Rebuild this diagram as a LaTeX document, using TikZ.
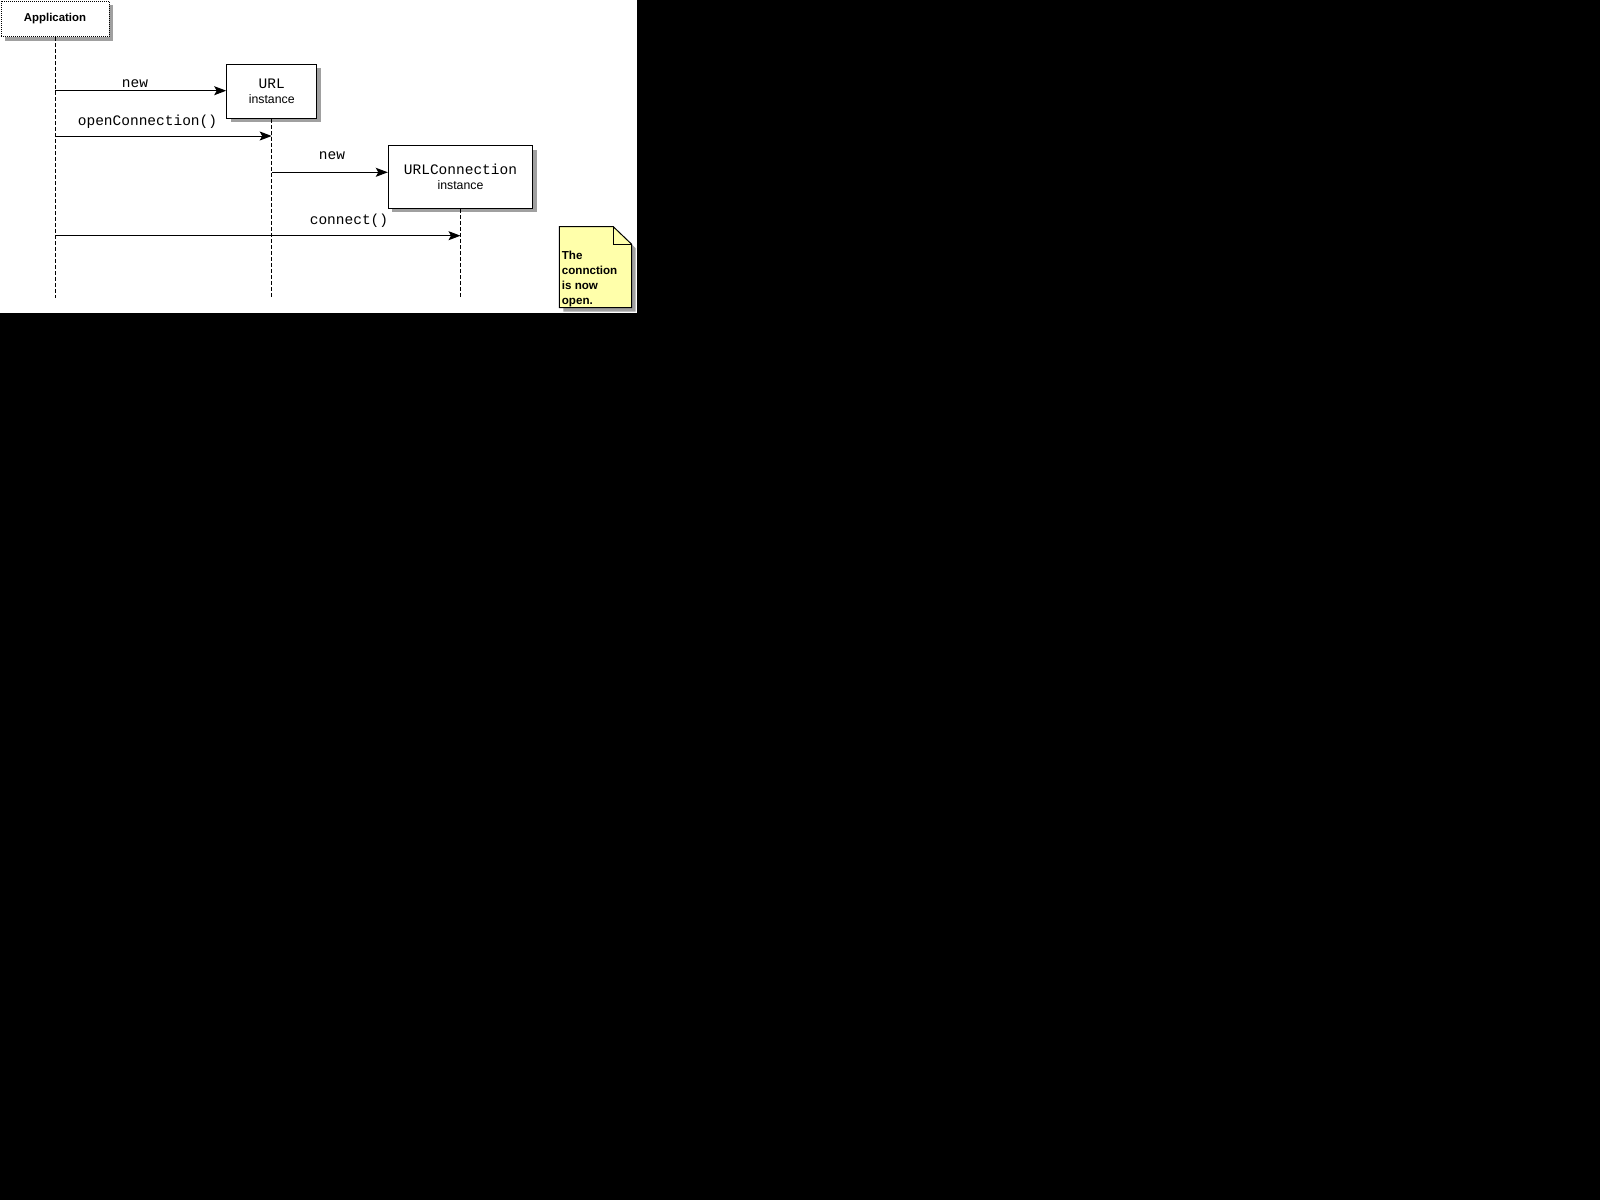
\documentclass[tikz,border=0pt]{standalone}
\usepackage{fontspec}
\setmainfont{Liberation Sans}
\newfontfamily\monof{Liberation Mono}
\newfontfamily\sansf{Liberation Sans}
\usetikzlibrary{arrows.meta,shadows}
\definecolor{notefill}{RGB}{255,255,170}
\definecolor{shadowgray}{RGB}{160,160,160}
\tikzset{
  obj/.style={draw, line width=1pt, fill=white, inner sep=0pt,
    drop shadow={shadow xshift=4pt, shadow yshift=-4pt, fill=shadowgray, opacity=1}},
  objtext/.style={align=center, font=\monof\fontsize{14.5pt}{15pt}\selectfont},
  life/.style={line width=1pt, dash pattern=on 4pt off 2pt},
  msg/.style={line width=1pt, -{Stealth[length=12pt,width=9pt,inset=2.5pt]}},
  lbl/.style={font=\monof\fontsize{14.5pt}{15pt}\selectfont, anchor=base, inner sep=0pt},
  notetext/.style={font=\bfseries\fontsize{11.6pt}{15pt}\selectfont, align=left, anchor=north west, inner sep=0pt},
}
\newcommand{\instlabel}{{\sansf\fontsize{12.3pt}{15pt}\selectfont instance}}
\begin{document}
\begin{tikzpicture}[x=1pt,y=-1pt]
  \fill[black] (0,0) rectangle (1600,1200);
  \useasboundingbox (0,0) rectangle (1600,1200);
  \fill[white] (0,0) rectangle (637,313);

  % objects
  \node[obj, dash pattern=on 1pt off 1pt, minimum width=108pt, minimum height=35.7pt,
        font=\bfseries\fontsize{11.4pt}{13pt}\selectfont] (app) at (55,18.85) {\raisebox{-1pt}{Application}};
  \node[obj, objtext, minimum width=90pt, minimum height=54pt] (url) at (271.7,91.3) {URL\\\instlabel};
  \node[obj, objtext, minimum width=144.4pt, minimum height=62.6pt] (urlc) at (460.5,177) {\raisebox{1pt}{URLConnection}\\\raisebox{1pt}{\instlabel}};

  % lifelines
  \coordinate (appEnd) at (55,298);
  \coordinate (urlEnd) at (271.7,296.7);
  \coordinate (urlcEnd) at (460.5,298);
  \draw[life] (app.south) -- (appEnd);
  \draw[life] (url.south) -- (urlEnd);
  \draw[life] (urlc.south) -- (urlcEnd);

  % messages
  \draw[msg] (app.south |- 0,90.7) -- (url.west |- 0,90.7);
  \node[lbl] (l1) at (135,87.3) {new};
  \draw[msg] (app.south |- 0,136) -- (url.south |- 0,136);
  \node[lbl] (l2) at (147.5,125) {openConnection()};
  \draw[msg] (url.south |- 0,172.3) -- (urlc.west |- 0,172.3);
  \node[lbl] (l3) at (332,159.3) {new};
  \draw[msg] (app.south |- 0,235.7) -- (urlc.south |- 0,235.7);
  \node[lbl] (l4) at (349,224) {connect()};

  % note
  \fill[shadowgray] (563.3,230.7) -- (617.3,230.7) -- (635.7,248.3) -- (635.7,311.7) -- (563.3,311.7) -- cycle;
  \filldraw[fill=notefill, line width=1pt] (559.3,226.7) -- (613.3,226.7) -- (631.7,244.3) -- (631.7,307.7) -- (559.3,307.7) -- cycle;
  \draw[line width=1pt] (613.3,226.7) -- (613.3,244.3) -- (631.7,244.3);
  \node[notetext] (note) at (561.7,251) {The\\connction\\is now\\open.};
\end{tikzpicture}
\end{document}
